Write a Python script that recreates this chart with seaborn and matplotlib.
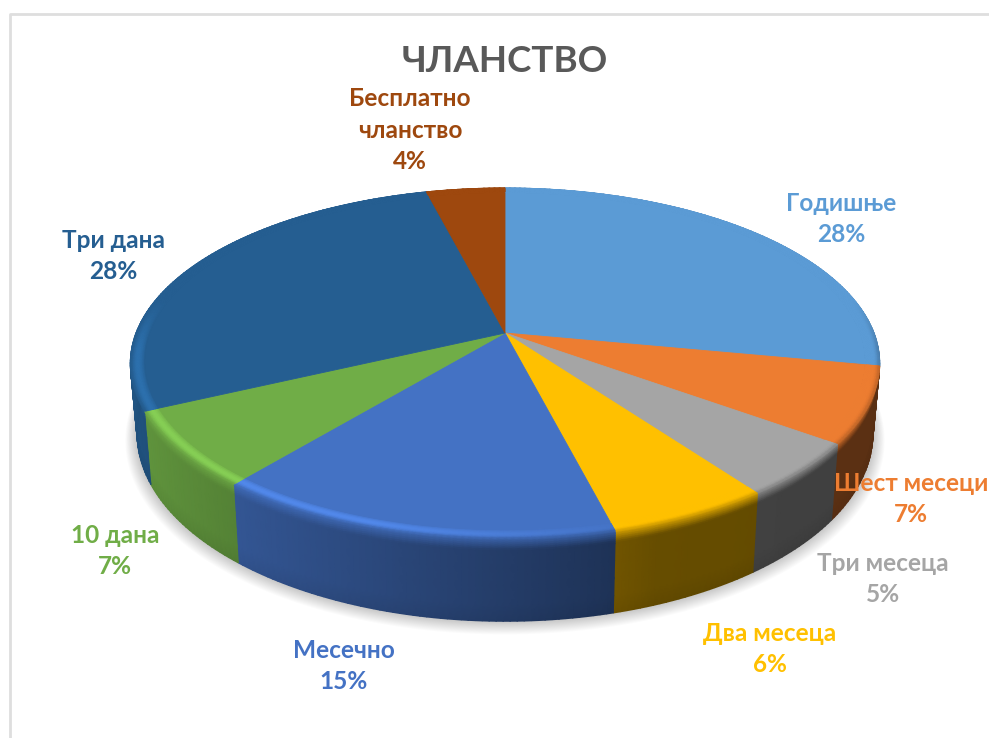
import numpy as np
import seaborn as sns
import matplotlib.pyplot as plt

# values as printed on the chart, clockwise from 12 o'clock
categories = ['Годишње', 'Шест месеци', 'Три месеца', 'Два месеца', 'Месечно', '10 дана', 'Три дана', 'Бесплатно\nчланство']
percent = [28, 7, 5, 6, 15, 7, 28, 4]
slice_colors = ['#5B9BD5', '#ED7D31', '#A5A5A5', '#FFC000', '#4472C4', '#70AD47', '#255E91', '#9E480E']
chart_title = 'ЧЛАНСТВО'

sns.set_theme(style='white')
plt.rcParams['font.family'] = ['Lato', 'Noto Sans', 'DejaVu Sans']
palette = sns.color_palette(slice_colors)

# layout of the fake 3d pie, in pixels of the picture
cx, cy = 505, 333
rx, ry = 369, 170.2
persp = 0.1738
depth = 68
label_xy = [(841, 219), (911, 499), (883, 579), (770, 649), (344, 666), (115, 551), (113, 256), (410, 130)]


def project(t, r=1.0, z=0.0):
    # t is the clockwise angle from the back of the pie, z goes down the wall
    px = r * np.sin(t)
    py = -r * np.cos(t)
    den = 1 - persp * py
    shrink = 1 - 0.018 * z / depth
    return cx + rx * px / den * shrink, cy + ry * py / den + z / den


def wall_shade(t):
    return np.interp(np.sin(t), [-1, -0.9, -0.6, 0.2, 0.35, 1], [0.9, 0.85, 0.74, 0.46, 0.4, 0.38])


fig, ax = plt.subplots(figsize=(9.89, 7.38), dpi=100)
fig.subplots_adjust(0, 0, 1, 1)
ax.set_xlim(0, 989)
ax.set_ylim(738, 0)
ax.axis('off')
sns.despine(ax=ax, left=True, bottom=True)

# chart frame
ax.plot([10, 10, 989], [738, 14, 14], color='#dedede', lw=2, zorder=0)

# soft shadow under the pie
tt = np.linspace(0, 2 * np.pi, 361)
for k in range(14):
    sx, sy = project(tt, 1 + 0.0022 * (14 - k), depth)
    ax.fill(sx, sy + 0.35 * (14 - k), color='black', alpha=0.014, lw=0, zorder=1)

edges = np.cumsum([0] + percent) / sum(percent) * 2 * np.pi

band_r = np.linspace(0.962, 1, 9)
wall_z = np.concatenate([np.linspace(0, 10, 7), np.linspace(10, depth, 5)[1:]])

for i, col in enumerate(palette):
    t = np.linspace(edges[i], edges[i + 1], max(4, int(percent[i] * 4)))
    base = np.array(col)
    shade = wall_shade(t)
    glow = np.interp(np.sin(t), [-1, -0.3, 0.3, 1], [0.2, 0.2, 0.0, 0.0])
    front = np.clip((-np.cos(t) + 0.2) / 0.3, 0, 1)

    # flat top of the slice
    fx, fy = project(t, band_r[0])
    ax.fill(np.concatenate([[cx], fx]), np.concatenate([[cy], fy]), color=col, ec=col, lw=0.6, zorder=3)

    # bevel ring round the flat top
    tg, rg = np.meshgrid(t, band_r)
    bx, by = project(tg, rg)
    u = np.linspace(0, 1, len(band_r))[:, None]
    fall = np.clip((u - 0.7) / 0.3, 0, 1) * 0.3 * front
    f = (1 + glow * np.sin(np.pi * u) * front) * (1 - fall) + shade * fall
    ax.pcolormesh(bx, by, np.clip(base * f[:, :, None], 0, 1), shading='gouraud', zorder=2.5)

    # wall going down from the rim
    tg, zg = np.meshgrid(t, wall_z)
    wx, wy = project(tg, 1.0, zg)
    mix = np.clip(wall_z / 9, 0, 1)[:, None]
    start = 1 * 0.7 + shade * 0.3
    f = start * (1 - mix) + shade * mix
    f[-1] = f[-1] * 0.94
    ax.pcolormesh(wx, wy, np.clip(base * f[:, :, None], 0, 1), shading='gouraud', zorder=2)

ax.text(505, 62, chart_title, ha='center', va='center', fontsize=26.5, fontweight='bold', color='#595959', zorder=5)

for name, pct, col, (lx, ly) in zip(categories, percent, palette, label_xy):
    ax.text(lx, ly, f'{name}\n{pct}%', ha='center', va='center', fontsize=17.6, fontweight='bold',
            color=col, linespacing=1.46, zorder=5, clip_on=True)

fig.savefig('out.png', dpi=100)
